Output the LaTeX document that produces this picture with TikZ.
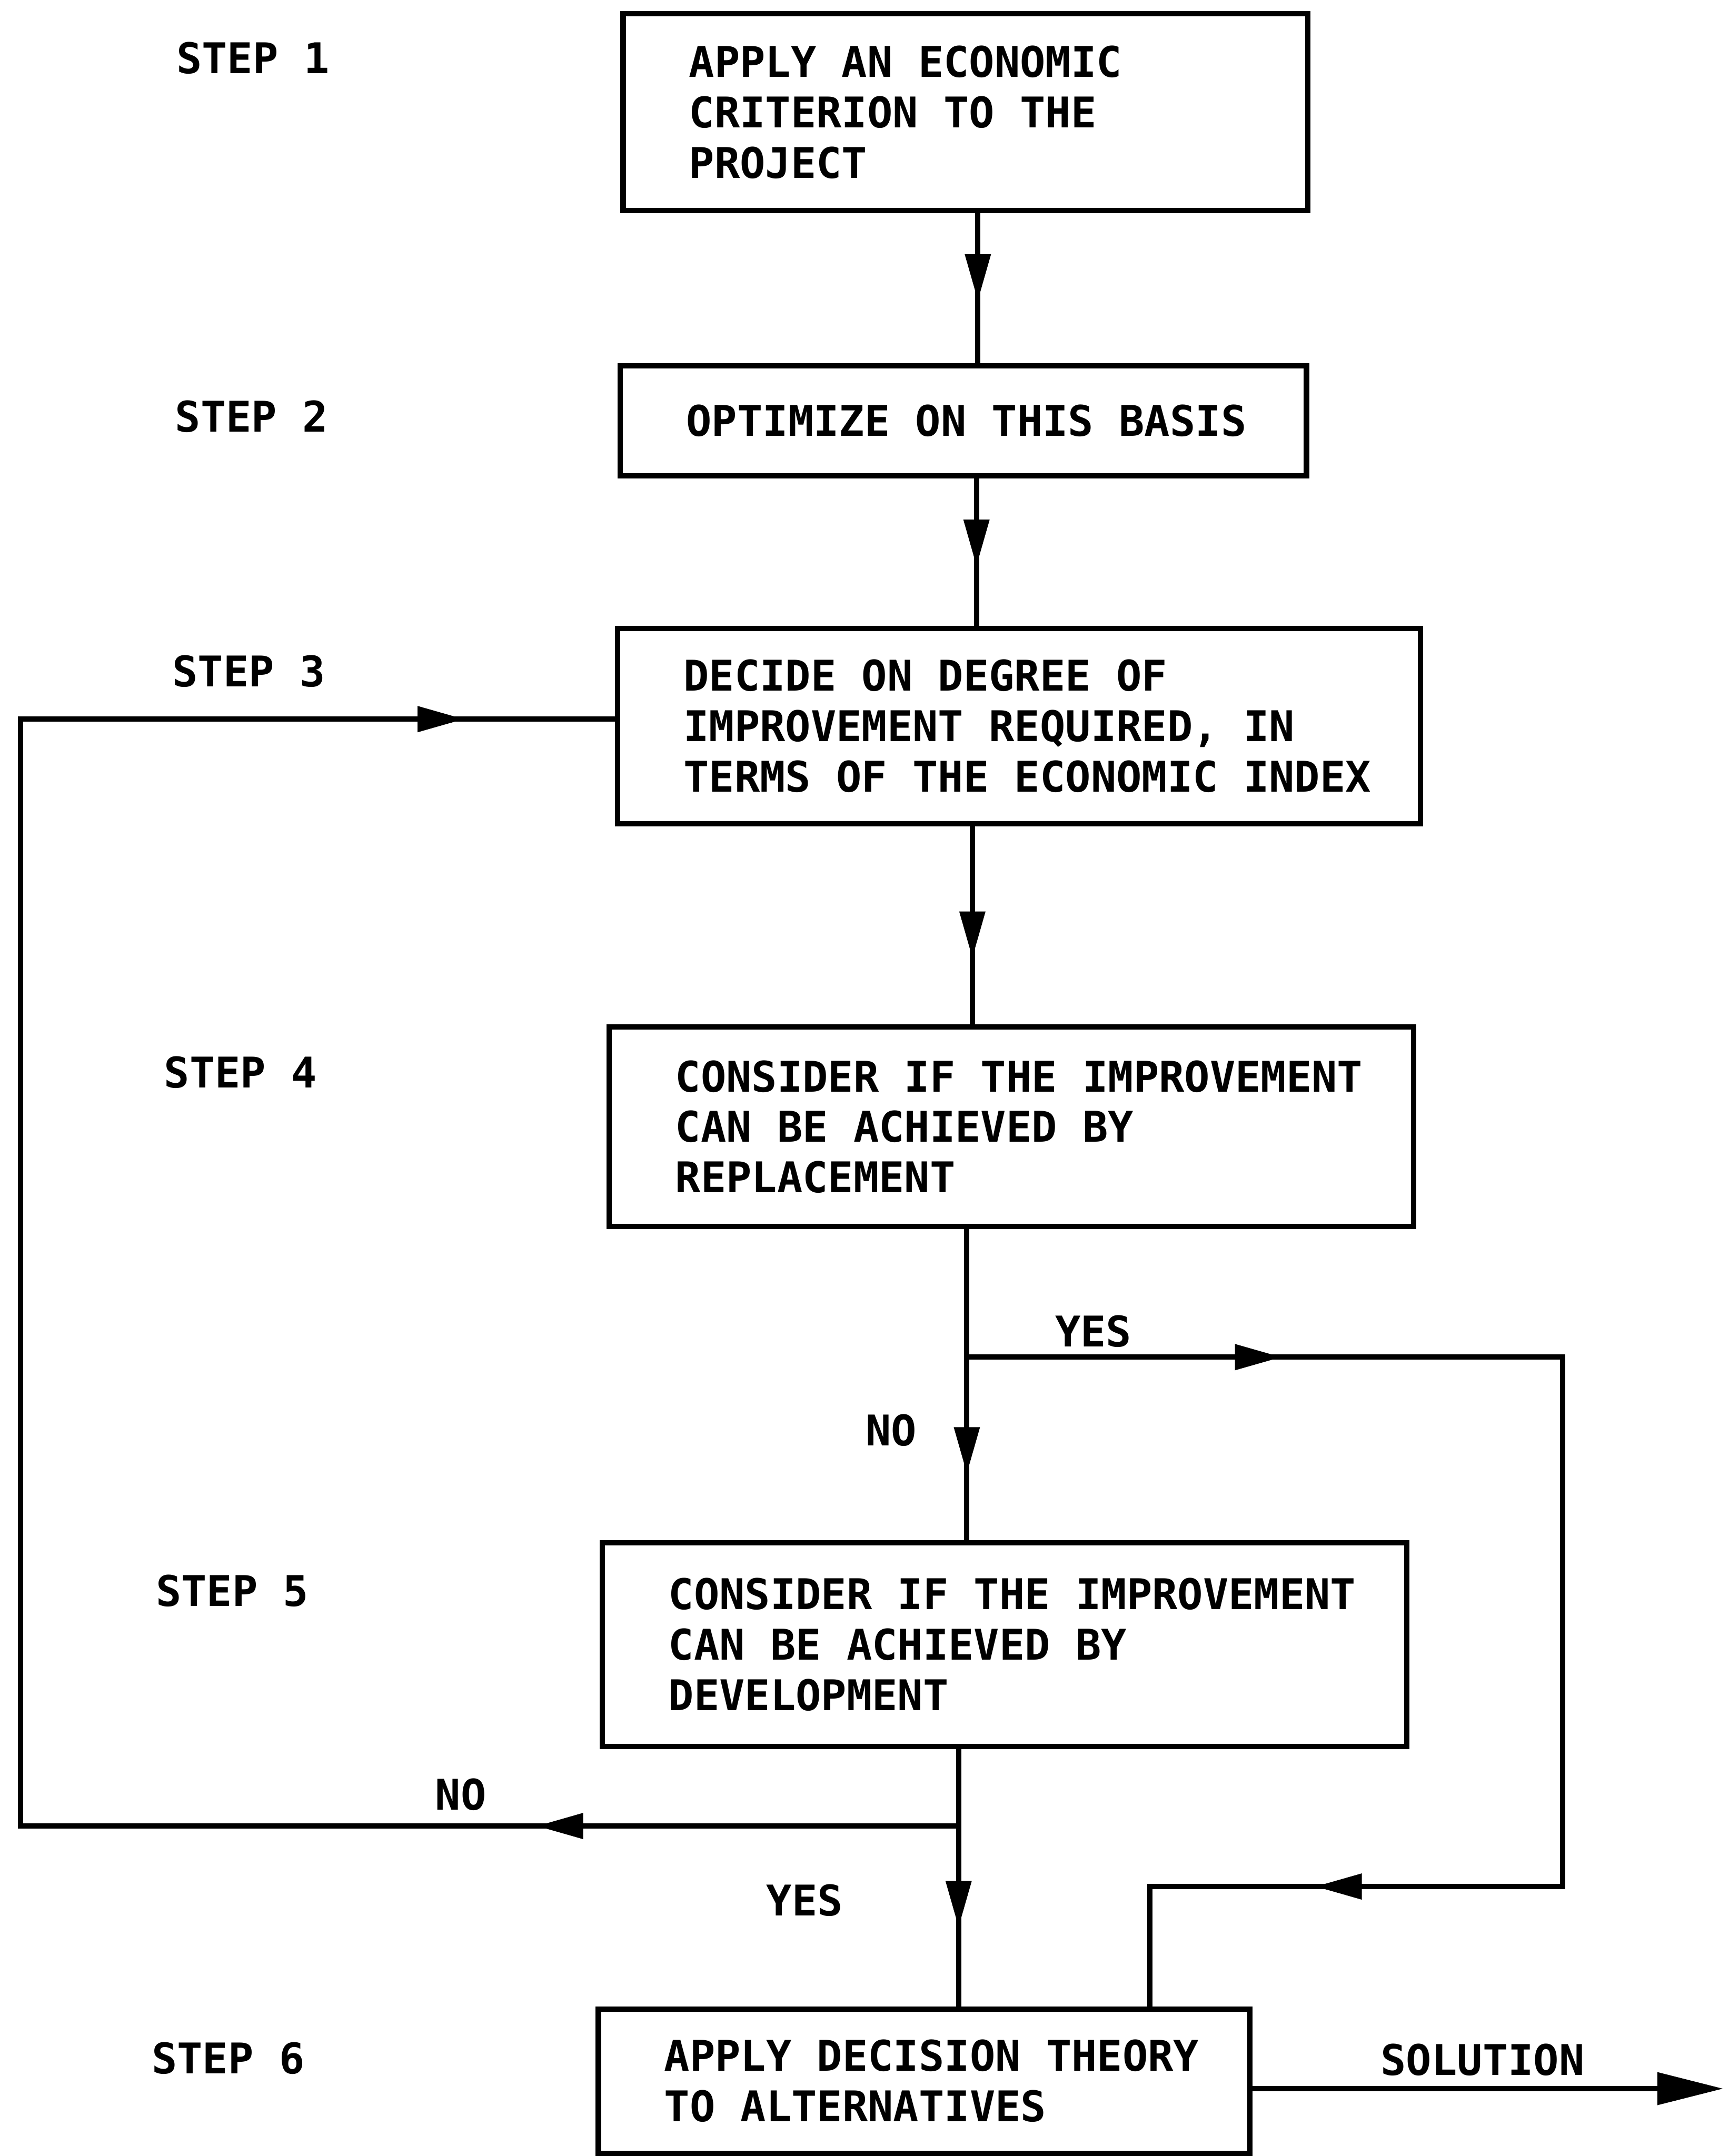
\documentclass[tikz,border=0pt]{standalone}
\usepackage{fontspec}
\setmainfont{DejaVu Sans Mono}
\usetikzlibrary{arrows.meta,decorations.markings}
\tikzset{
  every node/.style={font=\bfseries\fontsize{17.5pt}{20.9pt}\selectfont},
  conn/.style={line width=2.2pt},
  stepbox/.style={draw, line width=2.2pt, inner xsep=0.96cm, inner ysep=0pt, align=left},
  lbl/.style={inner sep=0pt, text height=0.45cm, text depth=0pt},
  headat/.style={postaction={decorate, decoration={markings,
      mark=at position #1 with {\arrow{Triangle[length=0.68cm,width=0.36cm]}}}}},
}
\newcommand{\bxl}[1]{\mbox{\spaceskip=10.54pt\relax #1}}
\begin{document}
\begin{tikzpicture}[x=0.02cm, y=-0.02cm]
\useasboundingbox (0,0) rectangle (1257,1568);

% boxes
\node[stepbox, minimum width=9.96cm, minimum height=2.86cm, text width=8.04cm] (b1) at (702,81.5)
  {\bxl{APPLY AN ECONOMIC}\\\bxl{CRITERION TO THE}\\\bxl{PROJECT}};
\node[stepbox, minimum width=9.98cm, minimum height=1.6cm, text width=8.06cm] (b2) at (700.5,306)
  {\bxl{OPTIMIZE ON THIS BASIS}};
\node[stepbox, minimum width=11.68cm, minimum height=2.84cm, text width=9.76cm] (b3) at (741,528)
  {\bxl{DECIDE ON DEGREE OF}\\\bxl{IMPROVEMENT REQUIRED, IN}\\\bxl{TERMS OF THE ECONOMIC INDEX}};
\node[stepbox, minimum width=11.7cm, minimum height=2.9cm, text width=9.78cm] (b4) at (735.5,819.5)
  {\bxl{CONSIDER IF THE IMPROVEMENT}\\\bxl{CAN BE ACHIEVED BY}\\\bxl{REPLACEMENT}};
\node[stepbox, minimum width=11.7cm, minimum height=2.96cm, text width=9.78cm] (b5) at (730.5,1196)
  {\bxl{CONSIDER IF THE IMPROVEMENT}\\\bxl{CAN BE ACHIEVED BY}\\\bxl{DEVELOPMENT}};
\node[stepbox, minimum width=9.48cm, minimum height=2.1cm, text width=7.56cm] (b6) at (672,1513.5)
  {\bxl{APPLY DECISION THEORY}\\\bxl{TO ALTERNATIVES}};

% step labels
\node[lbl, anchor=west] (s1) at (128,42) {STEP 1};
\node[lbl, anchor=west] (s2) at (127,303) {STEP 2};
\node[lbl, anchor=west] (s3) at (125,488) {STEP 3};
\node[lbl, anchor=west] (s4) at (119,780) {STEP 4};
\node[lbl, anchor=west] (s5) at (113,1157) {STEP 5};
\node[lbl, anchor=west] (s6) at (110,1497) {STEP 6};

% branch labels
\node[lbl] (yes1) at (795,968) {YES};
\node[lbl] (no1) at (648,1040) {NO};
\node[lbl] (no2) at (335,1305) {NO};
\node[lbl] (yes2) at (585,1382) {YES};
\node[lbl] (sol) at (1078,1498) {SOLUTION};

% routing coordinates
\coordinate (x1) at (711,0);
\coordinate (x2) at (710,0);
\coordinate (x3) at (707,0);
\coordinate (x4) at (703,0);
\coordinate (x5) at (697,0);
\coordinate (j4) at (703,987);
\coordinate (r1) at (1136,987);
\coordinate (r2) at (1136,1372);
\coordinate (r3) at (836,1372);
\coordinate (j5) at (697,1328);
\coordinate (l1) at (15,1328);
\coordinate (l2) at (15,523);
\coordinate (so) at (1253,1519);

% connectors
\draw[conn, headat=1.28cm] (b1.south -| x1) -- (b2.north -| x1);
\draw[conn, headat=1.28cm] (b2.south -| x2) -- (b3.north -| x2);
\draw[conn, headat=1.92cm] (b3.south -| x3) -- (b4.north -| x3);
\draw[conn, headat=3.56cm] (b4.south -| x4) -- (b5.north -| x4);
\draw[conn, headat=4.58cm, headat=19.96cm] (j4) -- (r1) -- (r2) -- (r3) -- (b6.north -| r3);
\draw[conn, headat=2.6cm] (b5.south -| x5) -- (b6.north -| x5);
\draw[conn, headat=6.14cm, headat=36.2cm] (j5) -- (l1) -- (l2) -- (l2 -| b3.west);
\draw[conn, -{Triangle[length=0.96cm,width=0.46cm]}] (b6.east |- so) -- (so);
\end{tikzpicture}
\end{document}
